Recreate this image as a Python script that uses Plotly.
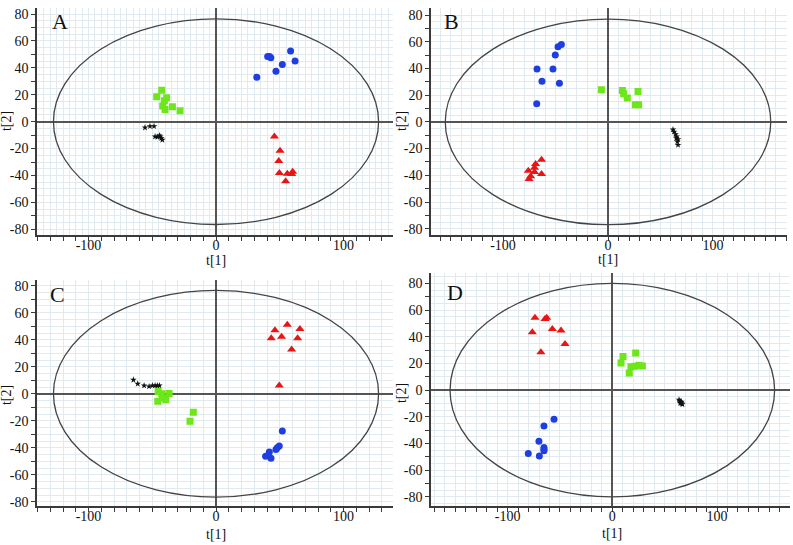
import plotly.graph_objects as go

# ---------------- data (scores t[1], t[2]) ----------------
panel_letters = ["A", "B", "C", "D"]

# Panel A
A_blue_t1 = [32, 40.5, 42, 43, 47, 52, 58.5, 62]
A_blue_t2 = [33, 48.5, 48.5, 47.5, 37.5, 42.5, 52.5, 45]
A_green_t1 = [-42.6, -46.5, -38.7, -40.5, -41.8, -40, -34.2, -28.2]
A_green_t2 = [23.4, 18.5, 17.7, 15.5, 11.6, 9.1, 11.1, 8.1]
A_black_t1 = [-55.7, -51.8, -48.6, -47.8, -46, -43.9, -42.9, -42.1, -44.4]
A_black_t2 = [-4.4, -3.4, -3.4, -11.1, -11.3, -11.1, -12.3, -13.5, -10.3]
A_red_t1 = [45.8, 50.2, 49.2, 49.7, 55.9, 59.3, 60.1, 54.6]
A_red_t2 = [-11, -21.6, -29.3, -38.2, -38.6, -38.9, -37.2, -44.3]

# Panel B
B_blue_t1 = [-44.4, -47.6, -50.2, -67.6, -52.4, -62.9, -46.3, -67.9]
B_blue_t2 = [58, 56.3, 50.1, 39.5, 39.5, 30.4, 28.9, 13.6]
B_green_t1 = [-6.3, 13.7, 14.9, 18.4, 28.6, 26, 29.2]
B_green_t2 = [24, 23.5, 21, 17.8, 22.7, 12.8, 12.8]
B_black_t1 = [61.9, 62.9, 64.4, 65.4, 66.7, 66, 66.7, 65.1]
B_black_t2 = [-5.7, -7.4, -9.4, -11.1, -13.1, -14.8, -17.3, -12.3]
B_red_t1 = [-63.3, -69, -70, -70, -75.9, -63.3, -73.7, -75.2]
B_red_t2 = [-28.4, -31.6, -34.3, -37.5, -36.5, -39, -40.7, -42.7]

# Panel C
C_red_t1 = [55.9, 46.2, 65.8, 43.3, 51.4, 64, 59.3, 49.6]
C_red_t2 = [51.2, 47.1, 48, 41.2, 42.2, 41.2, 32.8, 6.1]
C_blue_t1 = [52, 49.6, 48, 47, 41.8, 38.9, 43.1]
C_blue_t2 = [-27.5, -38.7, -40, -41.2, -43.1, -46.3, -47.8]
C_green_t1 = [-45.4, -42.6, -36.8, -45.7, -42, -39.4, -17.8, -20.4]
C_green_t2 = [1.7, 0, 0.2, -5.6, -3.2, -4.4, -13.7, -20.3]
C_black_t1 = [-64.8, -61.4, -56.4, -52.5, -49.9, -47.8, -46, -44.4]
C_black_t2 = [10.3, 7.4, 6.1, 5.4, 6.1, 6.1, 6.1, 6.1]

# Panel D
D_red_t1 = [-73.9, -64.3, -62.7, -76.4, -57.3, -49, -45.2, -68.2]
D_red_t2 = [54.3, 53.3, 54.3, 43.4, 45.9, 44.7, 34.5, 28.5]
D_green_t1 = [22.3, 10.2, 8.3, 17.8, 21.7, 25.5, 28.7, 16.2]
D_green_t2 = [27.8, 25.3, 20.3, 17.6, 17.9, 18.6, 18.1, 12.9]
D_black_t1 = [63.7, 64.6, 65.6, 66.2, 66.9, 64.9, 65.9]
D_black_t2 = [-7.2, -8.2, -9.2, -9.9, -10.7, -9.7, -8.7]
D_blue_t1 = [-55.7, -65.3, -70.1, -65.3, -65.3, -65.3, -80.3, -69.7]
D_blue_t2 = [-21.8, -26.8, -38.2, -42.9, -44.2, -45.4, -47.4, -49.4]

# Hotelling T2 ellipse semi-axes per panel
ellipse_t1 = [127.5, 155, 127.5, 155]
ellipse_t2 = [76.4, 77, 76.5, 80]

# tick labels
y_tick_vals = list(range(-80, 81, 10))
y_tick_text = [("%d" % v) if v % 20 == 0 else "" for v in y_tick_vals]
x_tick_vals = list(range(-170, 171, 10))
x_tick_text = [("%d" % v) if v in (-100, 0, 100) else "" for v in x_tick_vals]

# ---------------- styling ----------------
BLUE = "#1e3ee2"
GREEN = "#6de61c"
RED = "#e81515"
BLACK = "#111111"
GRID = "#e1eaef"
AXIS = "#3a3a3a"
FONT = "Liberation Serif"

panel_series = {
    "A": [(A_blue_t1, A_blue_t2, "circle", BLUE, 7),
          (A_green_t1, A_green_t2, "square", GREEN, 7),
          (A_black_t1, A_black_t2, "star", BLACK, 5),
          (A_red_t1, A_red_t2, "triangle-up", RED, 8)],
    "B": [(B_blue_t1, B_blue_t2, "circle", BLUE, 7),
          (B_green_t1, B_green_t2, "square", GREEN, 7),
          (B_black_t1, B_black_t2, "star", BLACK, 5),
          (B_red_t1, B_red_t2, "triangle-up", RED, 8)],
    "C": [(C_blue_t1, C_blue_t2, "circle", BLUE, 7),
          (C_green_t1, C_green_t2, "square", GREEN, 7),
          (C_black_t1, C_black_t2, "star", BLACK, 5),
          (C_red_t1, C_red_t2, "triangle-up", RED, 8)],
    "D": [(D_blue_t1, D_blue_t2, "circle", BLUE, 7),
          (D_green_t1, D_green_t2, "square", GREEN, 7),
          (D_black_t1, D_black_t2, "star", BLACK, 5),
          (D_red_t1, D_red_t2, "triangle-up", RED, 8)],
}

W, H = 793, 545
# plot-area pixel boxes: (left, right, top, bottom)
boxes = {"A": (37, 393, 7, 236), "B": (431, 787, 7, 236),
         "C": (37, 393, 281, 509), "D": (431, 790, 274, 509)}
xranges = {"A": [-140.4, 138.8], "B": [-168.6, 170.5],
           "C": [-140.4, 138.8], "D": [-173.2, 169.7]}
yranges = {"A": [-84.4, 84.5], "B": [-84.9, 85.3],
           "C": [-83.3, 84.3], "D": [-87, 87.8]}
xgrid = {"A": 5, "B": 10, "C": 10, "D": 10}
ygrid = {"A": 5, "B": 5, "C": 5, "D": 5}
letter_pos = {"A": (60, 21), "B": (451, 21), "C": (58, 296), "D": (455, 294)}
xtitle_pos = {"A": (216, 261), "B": (608, 260), "C": (216, 537), "D": (612, 536)}
ytitle_pos = {"A": (6, 121), "B": (401, 121), "C": (6, 397), "D": (401, 395)}

fig = go.Figure()
layout = dict(width=W, height=H, margin=dict(l=0, r=0, t=0, b=0),
              paper_bgcolor="white", plot_bgcolor="white", showlegend=False,
              font=dict(family=FONT, size=14, color="#111"))
shapes, annotations = [], []

for i, p in enumerate(panel_letters):
    n = "" if i == 0 else str(i + 1)
    xa, ya = "x" + n, "y" + n
    for t1, t2, sym, col, sz in panel_series[p]:
        fig.add_trace(go.Scatter(x=t1, y=t2, mode="markers", xaxis=xa, yaxis=ya,
                                 marker=dict(symbol=sym, color=col, size=sz,
                                             line=dict(width=0))))
    l, r, t, b = boxes[p]
    common = dict(showline=True, linecolor=AXIS, linewidth=1.5, mirror=False,
                  ticks="outside", ticklen=4, tickwidth=1, tickcolor=AXIS,
                  tickmode="array", showgrid=True, gridcolor=GRID, gridwidth=1,
                  zeroline=True, zerolinecolor="#555555", zerolinewidth=1.6,
                  tickfont=dict(family=FONT, size=14, color="#111"),
                  fixedrange=True)
    layout["xaxis" + n] = dict(common, domain=[l / W, r / W], range=xranges[p],
                               anchor=ya, tickvals=x_tick_vals, ticktext=x_tick_text,
                               ticklabelstandoff=-8,
                               minor=dict(tickmode="linear", tick0=0, dtick=xgrid[p],
                                          showgrid=True, gridcolor=GRID, ticks=""))
    layout["yaxis" + n] = dict(common, domain=[1 - b / H, 1 - t / H], range=yranges[p],
                               anchor=xa, tickvals=y_tick_vals, ticktext=y_tick_text,
                               minor=dict(tickmode="linear", tick0=0, dtick=ygrid[p],
                                          showgrid=True, gridcolor=GRID, ticks=""))
    shapes.append(dict(type="circle", xref=xa, yref=ya,
                       x0=-ellipse_t1[i], x1=ellipse_t1[i],
                       y0=-ellipse_t2[i], y1=ellipse_t2[i],
                       line=dict(color="#444444", width=1.3), layer="above"))
    lx, ly = letter_pos[p]
    annotations.append(dict(text=p, x=lx / W, y=1 - ly / H, xref="paper", yref="paper",
                            showarrow=False, xanchor="center", yanchor="middle",
                            font=dict(family=FONT, size=22, color="#111")))
    tx, ty = xtitle_pos[p]
    annotations.append(dict(text="t[1]", x=tx / W, y=1 - ty / H, xref="paper", yref="paper",
                            showarrow=False, xanchor="center", yanchor="middle",
                            font=dict(family=FONT, size=14, color="#111")))
    sx, sy = ytitle_pos[p]
    annotations.append(dict(text="t[2]", x=sx / W, y=1 - sy / H, xref="paper", yref="paper",
                            showarrow=False, xanchor="center", yanchor="middle",
                            textangle=-90,
                            font=dict(family=FONT, size=14, color="#111")))

layout["shapes"] = shapes
layout["annotations"] = annotations
fig.update_layout(**layout)
fig.write_html("out.html")
